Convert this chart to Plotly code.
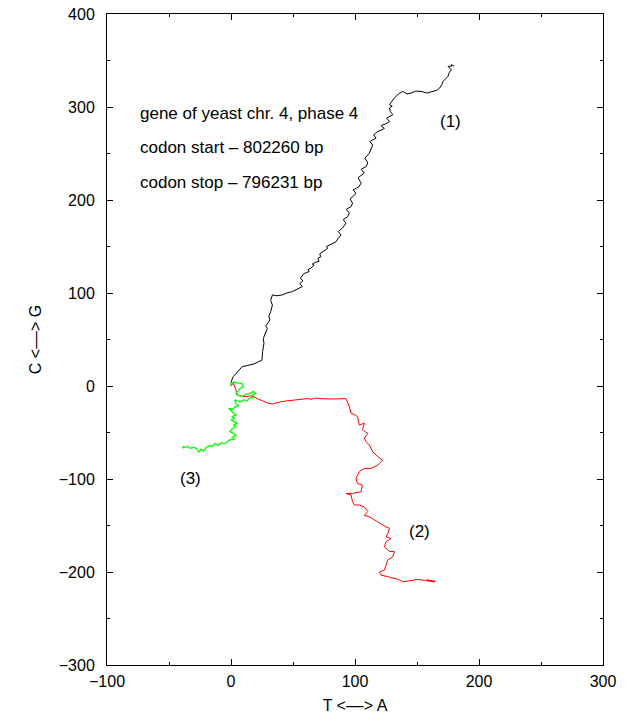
import plotly.graph_objects as go

# Walk (1) - black
x1 = [0, 0.5, 1.8, 5, 9, 13, 18.5, 22, 25, 25.5, 26.6, 26, 27.4, 29.3, 28, 31.4, 30.5, 32, 33.4, 32, 33.4,
      37, 41.4, 45, 49.5, 52, 55, 57.6, 55.5, 58, 56, 59, 61, 63, 62, 64.4, 67, 65.5, 68, 71, 70, 72.5, 71.5,
      74, 76, 78, 77, 80.6, 82, 84.6, 86, 88.7, 86.5, 90, 92.7, 90.5, 94, 95.4, 93, 97, 98, 96, 100.8, 98.5,
      103, 104.9, 102.5, 107.5, 105, 109, 110.3, 108, 111.6, 113, 114.3, 112, 117, 115, 118.4, 121, 123.7, 121,
      125, 127.8, 125.5, 130.5, 128.5, 127.8, 130, 127.8, 131.8, 135, 138.6, 142, 145.3, 149, 153.4, 158,
      164.2, 166, 168.3, 170, 171, 173, 175, 176, 177.7, 175, 178, 177.7, 180]
y1 = [0, 6, 10, 15, 20.8, 22, 23.7, 26, 28, 37, 46, 51, 56.7, 62, 64.6, 71, 75, 80, 87, 92, 98,
      97, 98, 100, 101.5, 103, 105, 107, 110, 113, 116, 121, 122, 123, 125, 126.7, 130, 131, 133, 134, 137,
      139, 142, 144.6, 146, 148, 150, 152, 153, 155, 158, 162.5, 166, 170, 175, 179, 182, 186, 190, 193,
      196.7, 201, 207, 211, 214, 218, 224, 229, 233, 236, 240, 245, 250.5, 255, 259, 263, 266.6, 270, 273.8,
      275, 277, 280, 282, 284.5, 288, 291.7, 295, 299, 301, 302.5, 309.7, 314, 316.8, 314, 315, 317, 316.8,
      315, 316.8, 318, 320.5, 324, 327.6, 330, 333, 337, 340, 343.7, 344, 345.5, 344]

# Walk (2) - red
x2 = [0, 1.8, 3.6, 5, 8, 11.7, 15, 18.5, 22, 26.6, 30, 33.4, 37, 40, 45, 51, 55, 59, 62, 64.4, 68, 72.5,
      76, 80.6, 86, 92.7, 95.4, 96.8, 100, 102, 103.5, 107.5, 106, 110.3, 107.5, 109, 111.6, 114.3, 116,
      118.4, 122.4, 120, 118.4, 113, 107.5, 103.5, 100.8, 102, 106, 104.9, 98, 92.7, 96.8, 98, 99.4, 103.5,
      107.5, 110.3, 107.5, 111.6, 115.6, 121, 125, 127.8, 126.5, 125, 129, 125, 123.7, 127.8, 131.8,
      130.5, 126.5, 125, 123.7, 119.7, 121, 126.5, 131.8, 135, 138.6, 145.3, 150.7, 156, 160, 164.2, 158, 165]
y2 = [0, 3, -2.5, -9.7, -11, -11.5, -10.5, -11.5, -14, -16.9, -18.5, -19.4, -18, -17, -16, -15, -14.5,
      -14, -13.5, -14.3, -13, -13.6, -14, -14, -13.8, -13.6, -22, -29.4, -31, -33, -42, -40, -47, -51,
      -56, -60, -63.5, -70.7, -73, -76, -79.7, -83, -85, -88.6, -88.6, -92, -99.4, -104.7, -106.6, -113.7,
      -115.5, -115.5, -117, -124.5, -128, -128, -130, -135, -139, -140.7, -144, -148, -151.5, -153, -158.5,
      -162, -164, -167.7, -173, -178, -178, -183.7, -187, -192.7, -198, -200, -203.4, -205, -207, -208,
      -210.6, -209, -208, -209, -210, -210.6, -208.5, -210]

# Walk (3) - green
x3 = [0, 1, -0.5, 3, 6, 9, 10, 7, 6, 4, 6, 9, 12, 15, 18, 20, 17, 19, 15, 13, 10, 8, 5, 3, 4, 6, 3, 1, -2,
      0, 2, 4, 1, 3, 0, 2, 5, 2, 4, 1, -1, 2, 4, 1, 3, -1, -3, -5, -8, -10, -13, -15, -18, -20, -22, -24,
      -26, -28, -30, -33, -35, -37, -39, -38]
y3 = [0, 4, 3, 4, 3, 2.5, -1, -3, -5, -8, -10, -11, -9, -8, -6, -8, -10, -12, -13, -16, -15, -17, -16,
      -15, -19, -21, -23, -25, -24, -27, -29, -31, -33, -35, -36, -38, -40, -42, -44, -46, -49, -51, -53,
      -55, -57, -58, -60, -62, -61, -64, -62, -65, -64, -66, -70, -68, -71, -67, -66, -67, -65, -66, -65, -67]

info_lines = ["gene of yeast chr. 4, phase 4", "codon start \u2013 802260 bp", "codon stop \u2013 796231 bp"]
info_y = [293, 256, 219]
labels = ["(1)", "(2)", "(3)"]
label_x = [177, 152, -33]
label_y = [284, -156, -99]

FONT = "Liberation Sans, Arial, sans-serif"

fig = go.Figure()
fig.add_trace(go.Scatter(x=x1, y=y1, mode="lines", line=dict(color="black", width=1), showlegend=False))
fig.add_trace(go.Scatter(x=x2, y=y2, mode="lines", line=dict(color="#ff0000", width=1), showlegend=False))
fig.add_trace(go.Scatter(x=x3, y=y3, mode="lines", line=dict(color="#00ff00", width=1.3), showlegend=False))

for t, yy in zip(info_lines, info_y):
    fig.add_annotation(x=-75, y=yy, text=t, showarrow=False, xanchor="left", yanchor="middle",
                       font=dict(family=FONT, size=17, color="black"))
for t, xx, yy in zip(labels, label_x, label_y):
    fig.add_annotation(x=xx, y=yy, text=t, showarrow=False, xanchor="center", yanchor="middle",
                       font=dict(family=FONT, size=17, color="black"))

axis_common = dict(showgrid=False, zeroline=False, showline=True, linecolor="black", linewidth=1,
                   mirror="ticks", ticks="inside", ticklen=6, tickcolor="black", tickwidth=1,
                   automargin=False,
                   tickfont=dict(family=FONT, size=16, color="black"),
                   minor=dict(ticks="inside", ticklen=3, dtick=50, tickcolor="black"))

fig.update_xaxes(range=[-100, 300], dtick=100, tick0=0, ticklabelstandoff=2,
                 title=dict(text="T <\u2013\u2013> A", font=dict(family=FONT, size=16, color="black"), standoff=10),
                 **axis_common)
fig.update_yaxes(range=[-300, 400], dtick=100, tick0=0, ticklabelstandoff=8,
                 title=dict(text="C <\u2013\u2013> G", font=dict(family=FONT, size=16, color="black"), standoff=13),
                 **axis_common)

fig.update_layout(width=627, height=717, margin=dict(l=107, r=24, t=14, b=52),
                  plot_bgcolor="white", paper_bgcolor="white")

fig.write_html("out.html")
